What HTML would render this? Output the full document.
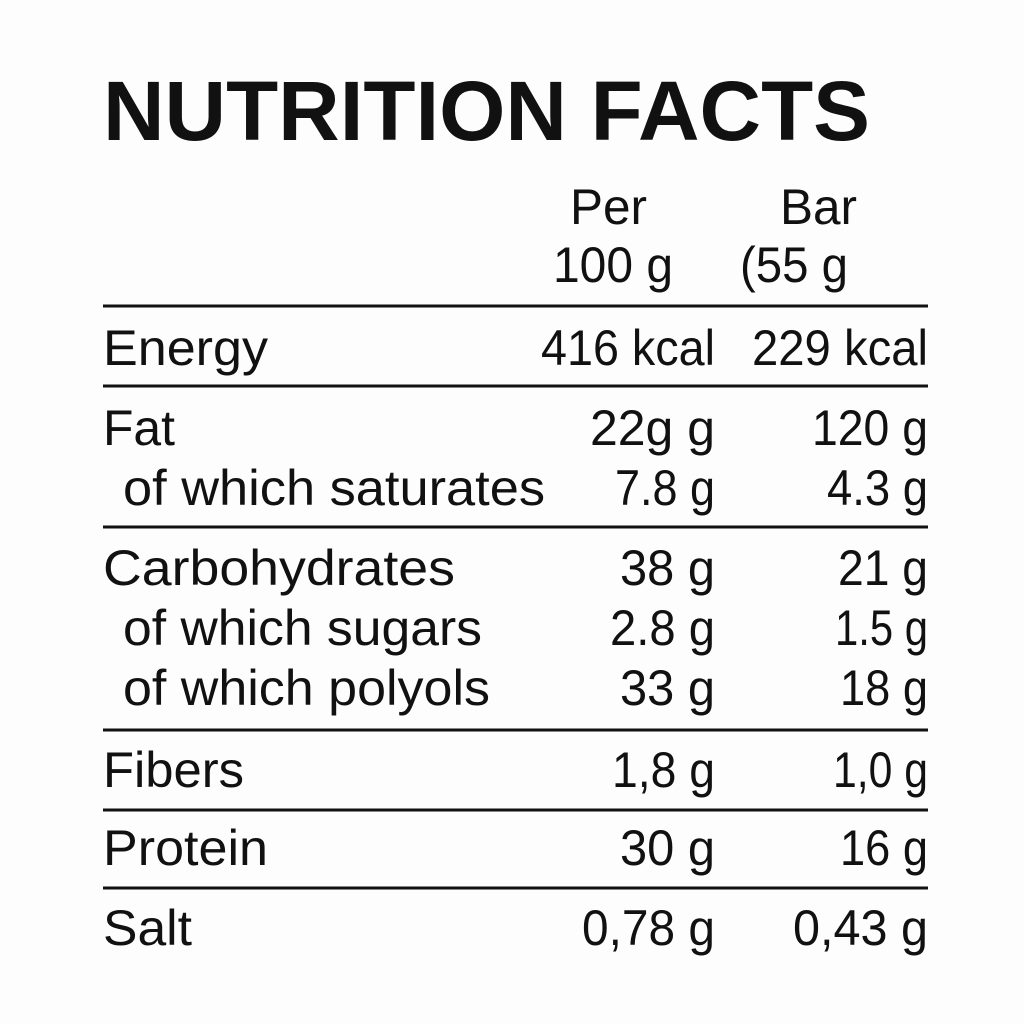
<!DOCTYPE html>
<html><head><meta charset="utf-8"><style>
html,body{margin:0;padding:0;background:#fff;}
svg{display:block}
text{font-family:"Liberation Sans",sans-serif;fill:#111;}
</style></head><body>
<svg width="1024" height="1024" viewBox="0 0 1024 1024">
<rect width="1024" height="1024" fill="#fdfdfd"/>
<text x="103" y="140" font-size="84" font-weight="bold" textLength="767" lengthAdjust="spacingAndGlyphs">NUTRITION FACTS</text>
<g font-size="50">
<text x="570" y="224" textLength="77" lengthAdjust="spacingAndGlyphs">Per</text>
<text x="553" y="282" textLength="120" lengthAdjust="spacingAndGlyphs">100 g</text>
<text x="780" y="224" textLength="77" lengthAdjust="spacingAndGlyphs">Bar</text>
<text x="740" y="282" textLength="108" lengthAdjust="spacingAndGlyphs">(55 g</text>
</g>
<g stroke="#111" stroke-width="3">
<line x1="103" x2="928" y1="306" y2="306"/>
<line x1="103" x2="928" y1="386" y2="386"/>
<line x1="103" x2="928" y1="527" y2="527"/>
<line x1="103" x2="928" y1="730" y2="730"/>
<line x1="103" x2="928" y1="810" y2="810"/>
<line x1="103" x2="928" y1="888" y2="888"/>
</g>
<g font-size="50">
<text x="103" y="365" textLength="165" lengthAdjust="spacingAndGlyphs">Energy</text>
<text x="103" y="445" textLength="72" lengthAdjust="spacingAndGlyphs">Fat</text>
<text x="123" y="505" textLength="422" lengthAdjust="spacingAndGlyphs">of which saturates</text>
<text x="103" y="585" textLength="352" lengthAdjust="spacingAndGlyphs">Carbohydrates</text>
<text x="123" y="645" textLength="359" lengthAdjust="spacingAndGlyphs">of which sugars</text>
<text x="123" y="705" textLength="367" lengthAdjust="spacingAndGlyphs">of which polyols</text>
<text x="103" y="787" textLength="141" lengthAdjust="spacingAndGlyphs">Fibers</text>
<text x="103" y="865" textLength="165" lengthAdjust="spacingAndGlyphs">Protein</text>
<text x="103" y="945" textLength="89" lengthAdjust="spacingAndGlyphs">Salt</text>
</g>
<g font-size="50" text-anchor="end">
<text x="715" y="365" textLength="174" lengthAdjust="spacingAndGlyphs">416 kcal</text>
<text x="928" y="365" textLength="176" lengthAdjust="spacingAndGlyphs">229 kcal</text>
<text x="715" y="445" textLength="125" lengthAdjust="spacingAndGlyphs">22g g</text>
<text x="928" y="445" textLength="116" lengthAdjust="spacingAndGlyphs">120 g</text>
<text x="715" y="505" textLength="100" lengthAdjust="spacingAndGlyphs">7.8 g</text>
<text x="928" y="505" textLength="101" lengthAdjust="spacingAndGlyphs">4.3 g</text>
<text x="715" y="585" textLength="95" lengthAdjust="spacingAndGlyphs">38 g</text>
<text x="928" y="585" textLength="90" lengthAdjust="spacingAndGlyphs">21 g</text>
<text x="715" y="645" textLength="105" lengthAdjust="spacingAndGlyphs">2.8 g</text>
<text x="928" y="645" textLength="93" lengthAdjust="spacingAndGlyphs">1.5 g</text>
<text x="715" y="705" textLength="95" lengthAdjust="spacingAndGlyphs">33 g</text>
<text x="928" y="705" textLength="88" lengthAdjust="spacingAndGlyphs">18 g</text>
<text x="715" y="787" textLength="103" lengthAdjust="spacingAndGlyphs">1,8 g</text>
<text x="928" y="787" textLength="95" lengthAdjust="spacingAndGlyphs">1,0 g</text>
<text x="715" y="865" textLength="95" lengthAdjust="spacingAndGlyphs">30 g</text>
<text x="928" y="865" textLength="88" lengthAdjust="spacingAndGlyphs">16 g</text>
<text x="715" y="945" textLength="133" lengthAdjust="spacingAndGlyphs">0,78 g</text>
<text x="928" y="945" textLength="135" lengthAdjust="spacingAndGlyphs">0,43 g</text>
</g>
</svg>
</body></html>
